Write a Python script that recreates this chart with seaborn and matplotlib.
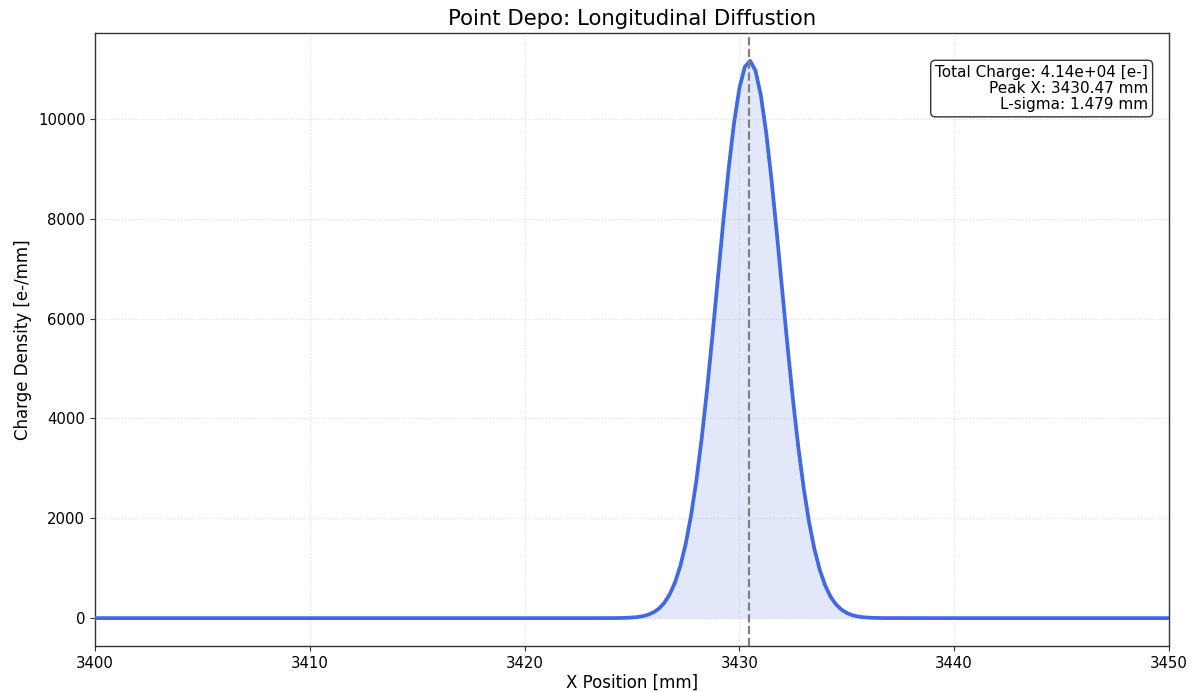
import numpy as np
import pandas as pd
import matplotlib
matplotlib.use("Agg")
import matplotlib.pyplot as plt
import seaborn as sns

# Values
x_mm = [3400.0, 3410.0, 3420.0, 3423.0,
        3424.00, 3424.25, 3424.50, 3424.75, 3425.00, 3425.25, 3425.50, 3425.75,
        3426.00, 3426.25, 3426.50, 3426.75, 3427.00, 3427.25, 3427.50, 3427.75,
        3428.00, 3428.25, 3428.50, 3428.75, 3429.00, 3429.25, 3429.50, 3429.75,
        3430.00, 3430.25, 3430.50, 3430.75, 3431.00, 3431.25, 3431.50, 3431.75,
        3432.00, 3432.25, 3432.50, 3432.75, 3433.00, 3433.25, 3433.50, 3433.75,
        3434.00, 3434.25, 3434.50, 3434.75, 3435.00, 3435.25, 3435.50, 3435.75,
        3436.00, 3436.25, 3436.50, 3436.75, 3437.00, 3440.0, 3450.0]
density = [0, 0, 0, 0,
           0.8, 1.6, 3.2, 6.3, 12, 22, 39, 69,
           116, 190, 304, 472, 712, 1044, 1487, 2058,
           2768, 3620, 4599, 5680, 6814, 7946, 9006, 9919,
           10618, 11044, 11165, 10968, 10473, 9718, 8763, 7679,
           6539, 5413, 4354, 3404, 2585, 1908, 1369, 955,
           647, 426, 273, 170, 103, 60, 34, 19,
           10, 5, 3, 1, 0.5, 0, 0]

peak_x = 3430.47
title = "Point Depo: Longitudinal Diffustion"
info_lines = ["Total Charge: 4.14e+04 [e-]", "Peak X: 3430.47 mm", "L-sigma: 1.479 mm"]
x_limits = [3400, 3450]

df = pd.DataFrame({"x": x_mm, "y": density})

sns.set_style("ticks")
plt.rcParams['font.family'] = ['DejaVu Sans']
plt.rcParams['text.color'] = 'black'
plt.rcParams['axes.labelcolor'] = 'black'
plt.rcParams['xtick.color'] = 'black'
plt.rcParams['ytick.color'] = 'black'

fig, ax = plt.subplots(figsize=(11.91, 6.92), dpi=100)
fig.subplots_adjust(left=0.0798, right=0.9815, top=0.9523, bottom=0.0665)

sns.lineplot(data=df, x="x", y="y", ax=ax, color="#4169E1", linewidth=2.7, zorder=3)
ax.fill_between(df["x"], df["y"], color="#4169E1", alpha=0.15, linewidth=0, zorder=2)
ax.axvline(peak_x, color="grey", linestyle="--", linewidth=1.6, zorder=4)

ax.set_xlim(*x_limits)
ax.margins(y=0.05)
ax.grid(True, linestyle=":", color="#dddddd", linewidth=0.8)
ax.set_axisbelow(True)

ax.set_title(title, fontsize=15.3, pad=6)
ax.set_xlabel("X Position [mm]", fontsize=12, labelpad=2)
ax.set_ylabel("Charge Density [e-/mm]", fontsize=12)
ax.tick_params(labelsize=10.7, color="#333333")
for s in ax.spines.values():
    s.set_color("#333333")
    s.set_linewidth(1.0)

ax.text(0.9805, 0.948, "\n".join(info_lines), transform=ax.transAxes,
        ha="right", va="top", fontsize=11, linespacing=1.1,
        bbox=dict(boxstyle="round,pad=0.3", facecolor="white", edgecolor="#333333"))

fig.savefig("out.png", dpi=100)
